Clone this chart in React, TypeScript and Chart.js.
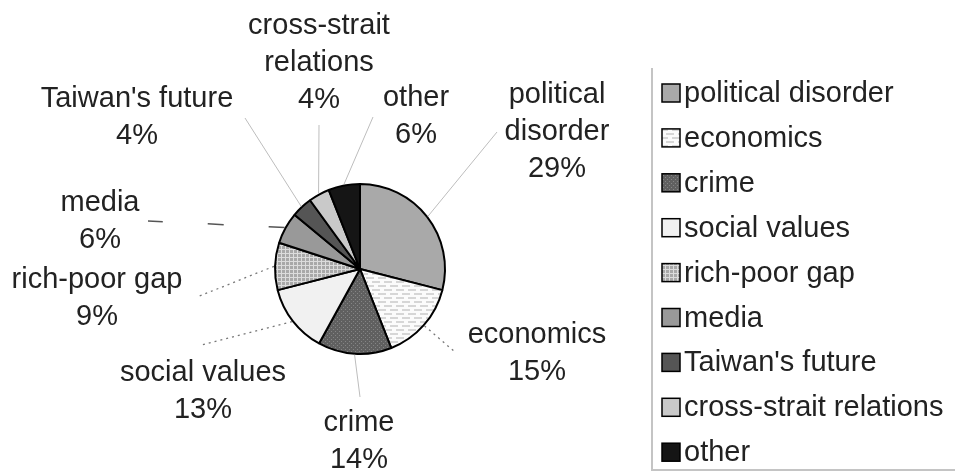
import React, { useEffect, useRef } from 'react';
import { Chart, registerables } from 'chart.js';

Chart.register(...registerables);

// ---- data ----
const categories = [
  'political disorder',
  'economics',
  'crime',
  'social values',
  'rich-poor gap',
  'media',
  "Taiwan's future",
  'cross-strait relations',
  'other',
];
const shares = [29, 15, 14, 13, 9, 6, 4, 4, 6];
const labelLinesText = [
  ['political', 'disorder'],
  ['economics'],
  ['crime'],
  ['social values'],
  ['rich-poor gap'],
  ['media'],
  ["Taiwan's future"],
  ['cross-strait', 'relations'],
  ['other'],
];

// ---- layout (offsets from the pie centre, px) ----
const labelOffset = [
  [197, -137], [177, 84], [-1, 172], [-157, 122], [-263, 29],
  [-260, -48], [-223, -152], [-41, -206], [56, -153],
];
const leaderEnd = [
  [137, -137], [95, 83], [0, 128], [-159, 76], [-163, 28],
  [-212, -48], [-115, -151], [-41, -144], [13, -152],
];
const leaderStyle = ['solid', 'dotted', 'solid', 'dotted', 'dotted', 'dashed', 'solid', 'solid', 'solid'];

const FONT = '29px "Liberation Sans", Arial, sans-serif';
const TEXT_COLOR = '#222';

function makePattern(kind: string): CanvasPattern | string {
  const c = document.createElement('canvas');
  const g = c.getContext('2d');
  if (!g) return '#ccc';
  if (kind === 'economics') {
    c.width = 12; c.height = 8;
    g.fillStyle = '#fbfbfb'; g.fillRect(0, 0, 12, 8);
    g.fillStyle = '#d6d6d6';
    g.fillRect(0, 1, 8, 2);
    g.fillRect(6, 5, 8, 2);
    g.fillRect(0, 5, 2, 2);
  } else if (kind === 'crime') {
    c.width = 4; c.height = 4;
    g.fillStyle = '#606060'; g.fillRect(0, 0, 4, 4);
    g.fillStyle = '#858585'; g.fillRect(1, 1, 1, 1);
    g.fillRect(3, 3, 1, 1);
  } else if (kind === 'grid') {
    c.width = 4; c.height = 4;
    g.fillStyle = '#a8a8a8'; g.fillRect(0, 0, 4, 4);
    g.fillStyle = '#dcdcdc';
    g.fillRect(0, 1, 4, 1);
    g.fillRect(1, 0, 1, 4);
  }
  const p = g.createPattern(c, 'repeat');
  return p || '#ccc';
}

const labelsPlugin = {
  id: 'outerLabels',
  afterDatasetsDraw(chart: any) {
    const ctx = chart.ctx as CanvasRenderingContext2D;
    const meta = chart.getDatasetMeta(0);
    const data = chart.data.datasets[0].data as number[];
    const total = data.reduce((a, b) => a + b, 0);
    ctx.save();
    meta.data.forEach((arc: any, i: number) => {
      const { x, y, startAngle, endAngle, outerRadius } = arc.getProps(
        ['x', 'y', 'startAngle', 'endAngle', 'outerRadius'], true);
      const mid = (startAngle + endAngle) / 2;
      const sx = x + Math.cos(mid) * (outerRadius + 1);
      const sy = y + Math.sin(mid) * (outerRadius + 1);
      const ex = x + leaderEnd[i][0];
      const ey = y + leaderEnd[i][1];
      const st = leaderStyle[i];
      ctx.beginPath();
      if (st === 'solid') {
        ctx.strokeStyle = '#bdbdbd'; ctx.lineWidth = 1; ctx.setLineDash([]);
      } else if (st === 'dotted') {
        ctx.strokeStyle = '#777'; ctx.lineWidth = 1.3; ctx.setLineDash([2, 4]);
      } else {
        ctx.strokeStyle = '#555'; ctx.lineWidth = 1.5; ctx.setLineDash([16, 45]);
      }
      if (st === 'dashed') {
        ctx.moveTo(sx, sy); ctx.lineTo(ex, ey);
      } else {
        ctx.moveTo(sx, sy); ctx.lineTo(ex, ey);
      }
      ctx.stroke();
      ctx.setLineDash([]);

      const lines = [...labelLinesText[i], Math.round((data[i] / total) * 100) + '%'];
      const lh = 37;
      const cx = x + labelOffset[i][0];
      const cy = y + labelOffset[i][1];
      ctx.font = FONT;
      ctx.fillStyle = TEXT_COLOR;
      ctx.textAlign = 'center';
      ctx.textBaseline = 'middle';
      lines.forEach((t, k) => {
        ctx.fillText(t, cx, cy + (k - (lines.length - 1) / 2) * lh);
      });
    });
    ctx.restore();
  },
};

const legendPlugin = {
  id: 'boxLegend',
  afterDraw(chart: any) {
    const ctx = chart.ctx as CanvasRenderingContext2D;
    const ds = chart.data.datasets[0];
    const labels = chart.data.labels as string[];
    const left = 652;
    const top = 68;
    const bottom = 470;
    ctx.save();
    ctx.strokeStyle = '#c4c4c4';
    ctx.lineWidth = 2;
    ctx.beginPath();
    ctx.moveTo(left, top);
    ctx.lineTo(left, bottom);
    ctx.lineTo(chart.width, bottom);
    ctx.stroke();
    ctx.font = FONT;
    ctx.textAlign = 'left';
    ctx.textBaseline = 'middle';
    labels.forEach((lab, i) => {
      const yc = 93 + i * 44.9;
      ctx.fillStyle = ds.backgroundColor[i];
      ctx.fillRect(662, yc - 9, 18, 18);
      ctx.strokeStyle = '#000';
      ctx.lineWidth = 1.5;
      ctx.strokeRect(662, yc - 9, 18, 18);
      ctx.fillStyle = TEXT_COLOR;
      ctx.fillText(lab, 684, yc + 1);
    });
    ctx.restore();
  },
};

export default function App() {
  const ref = useRef<HTMLCanvasElement | null>(null);
  useEffect(() => {
    if (!ref.current) return;
    const colors: any[] = [
      '#a9a9a9',
      makePattern('economics'),
      makePattern('crime'),
      '#f1f1f1',
      makePattern('grid'),
      '#999999',
      '#555555',
      '#c9c9c9',
      '#151515',
    ];
    const chart = new Chart(ref.current, {
      type: 'pie',
      data: {
        labels: categories,
        datasets: [
          {
            data: shares,
            backgroundColor: colors,
            borderColor: '#000',
            borderWidth: 2,
            radius: 85,
          } as any,
        ],
      },
      options: {
        responsive: false,
        devicePixelRatio: 1,
        animation: false,
        layout: { padding: { left: 0, right: 235, top: 66, bottom: 0 } },
        plugins: {
          legend: { display: false },
          tooltip: { enabled: false },
        },
      },
      plugins: [labelsPlugin, legendPlugin],
    });
    return () => chart.destroy();
  }, []);
  return (
    <div style={{ position: 'absolute', left: 0, top: 0, width: 955, height: 472, background: '#fff' }}>
      <canvas ref={ref} width={955} height={472} />
    </div>
  );
}
